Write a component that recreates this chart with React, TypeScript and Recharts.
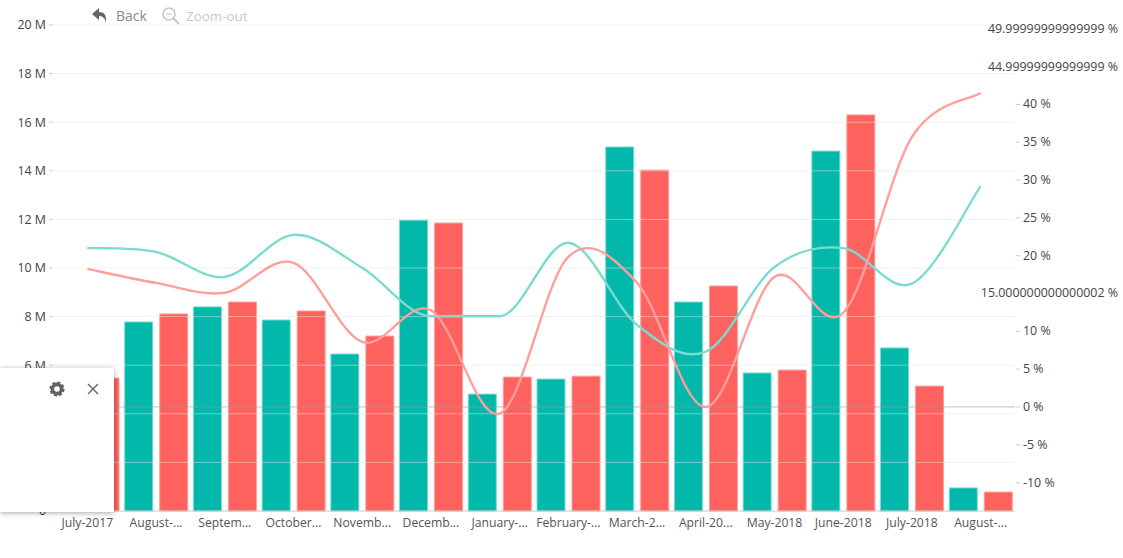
import { Bar, ComposedChart, Line, ReferenceLine, XAxis, YAxis } from 'recharts';

const months = [
  'July-2017', 'August-...', 'Septem...', 'October...', 'Novemb...', 'Decemb...', 'January-...',
  'February-...', 'March-2...', 'April-20...', 'May-2018', 'June-2018', 'July-2018', 'August-...',
];
const tealBars = [5.3, 7.78, 8.4, 7.86, 6.46, 11.97, 4.81, 5.43, 14.98, 8.6, 5.68, 14.81, 6.71, 0.95];
const redBars = [5.47, 8.11, 8.6, 8.23, 7.2, 11.85, 5.51, 5.55, 14.03, 9.26, 5.8, 16.3, 5.14, 0.78];
const tealLine = [21.03, 20.5, 17.2, 22.75, 18.4, 12.0, 12.0, 21.7, 10.85, 7.3, 18.5, 21.0, 16.3, 29.2];
const redLine = [18.25, 16.4, 15.1, 19.05, 8.6, 12.8, -0.9, 19.85, 16.4, 0, 17.2, 12.45, 35.7, 41.5];

const leftTicks = [0, 2, 4, 6, 8, 10, 12, 14, 16, 18, 20];
const rightTicks = [-10, -5, 0, 5, 10, 15, 20, 25, 30, 35, 40, 45, 50];
const rightLabels: Record<number, string> = {
  15: '15.000000000000002 %',
  45: '44.99999999999999 %',
  50: '49.99999999999999 %',
};

const data = months.map((month, i) => ({
  month,
  tealBar: tealBars[i],
  redBar: redBars[i],
  tealLine: tealLine[i],
  redLine: redLine[i],
}));

const FONT = '"Open Sans", sans-serif';

// d3's curve interface, catmull-rom style, the reference spline overshoots a little
// but stays flat along a level stretch, so the slope is dropped next to one
function smoothCurve(context: any) {
  let pts: [number, number][] = [];
  const k = 1 / 6;
  const slope = (i: number) => {
    const prev = pts[Math.max(i - 1, 0)];
    const next = pts[Math.min(i + 1, pts.length - 1)];
    const p = pts[i];
    const flat = Math.abs(p[1] - prev[1]) < 0.5 && i > 0 ? true : Math.abs(next[1] - p[1]) < 0.5 && i < pts.length - 1;
    return [(next[0] - prev[0]) * k, flat ? 0 : (next[1] - prev[1]) * k];
  };
  return {
    areaStart() {},
    areaEnd() {},
    lineStart() {
      pts = [];
    },
    point(x: number, y: number) {
      pts.push([+x, +y]);
    },
    lineEnd() {
      pts.forEach((p, i) => {
        if (i === 0) {
          context.moveTo(p[0], p[1]);
          return;
        }
        const p1 = pts[i - 1];
        const a = slope(i - 1);
        const b = slope(i);
        context.bezierCurveTo(p1[0] + a[0], p1[1] + a[1], p[0] - b[0], p[1] - b[1], p[0], p[1]);
      });
    },
  };
}

function RightTick({ x, y, payload }: any) {
  const long = rightLabels[payload.value];
  if (long) {
    return (
      <text x={1118} y={y} dy={4} textAnchor="end" fontSize={12.4} fontFamily={FONT} fill="#444">
        {long}
      </text>
    );
  }
  return (
    <g>
      <line x1={1016} x2={1020} y1={y} y2={y} stroke="#ccc" />
      <text x={1023} y={y} dy={4} fontSize={12.4} fontFamily={FONT} fill="#444">
        {payload.value} %
      </text>
    </g>
  );
}

function Toolbar() {
  return (
    <>
      <svg width={20} height={20} style={{ position: 'absolute', left: 90, top: 6 }}>
        <path d="M2 8 L9 2 V6 C14 6 17 9 16 17 C15 12 13 10 9 10 V14 Z" fill="#666" />
      </svg>
      <div style={{ position: 'absolute', left: 116, top: 6, font: `14px ${FONT}`, color: '#8a8a8a' }}>Back</div>
      <svg width={20} height={20} style={{ position: 'absolute', left: 161, top: 6 }}>
        <circle cx={8} cy={8} r={6} fill="none" stroke="#c4c4c4" strokeWidth={1.5} />
        <line x1={5} x2={11} y1={8} y2={8} stroke="#c4c4c4" />
        <line x1={12} x2={18} y1={12} y2={18} stroke="#c4c4c4" strokeWidth={2} />
      </svg>
      <div style={{ position: 'absolute', left: 186, top: 7, font: `13.4px ${FONT}`, color: '#c8c8c8' }}>Zoom-out</div>
    </>
  );
}

function Panel() {
  return (
    <div
      style={{
        position: 'absolute',
        left: 0,
        top: 368,
        width: 114,
        height: 144,
        background: '#fff',
        boxShadow: '0 1px 5px rgba(0,0,0,0.35)',
      }}
    >
      <svg width={114} height={40} style={{ position: 'absolute', left: 0, top: 0 }}>
        <circle cx={57} cy={21} r={4.6} fill="none" stroke="#5f6368" strokeWidth={3.6} />
        <circle cx={57} cy={21} r={6.6} fill="none" stroke="#5f6368" strokeWidth={2} strokeDasharray="3 2.2" />
        <path d="M88 16 L98 26 M98 16 L88 26" stroke="#5f6368" strokeWidth={1.4} />
      </svg>
    </div>
  );
}

export default function App() {
  return (
    <div style={{ position: 'absolute', left: 0, top: 0, width: 1123, height: 558, background: '#fff' }}>
      <ComposedChart
        width={1123}
        height={558}
        data={data}
        margin={{ top: 25, right: 0, bottom: 0, left: 0 }}
        barSize={28}
        barGap={7}
      >
        <XAxis
          dataKey="month"
          interval={0}
          height={47}
          tickLine={false}
          stroke="#c8c8c8"
          tick={{ fill: '#555', fontSize: 12.2, fontFamily: FONT }}
          tickMargin={1}
        />
        <YAxis
          yAxisId="left"
          width={53}
          domain={[0, 20]}
          ticks={leftTicks}
          interval={0}
          axisLine={false}
          tickSize={4}
          tickMargin={3}
          stroke="#ccc"
          tick={{ fill: '#444', fontSize: 12.4, fontFamily: FONT }}
          tickFormatter={(v: number) => (v === 0 ? '0' : `${v} M`)}
        />
        <YAxis
          yAxisId="right"
          orientation="right"
          width={108}
          domain={[-13.76, 50.5]}
          ticks={rightTicks}
          interval={0}
          axisLine={false}
          tickLine={false}
          tick={<RightTick />}
        />
        <Bar yAxisId="left" dataKey="tealBar" fill="#01B8AA" stroke="#7adbd0" strokeWidth={1} isAnimationActive={false} />
        <Bar yAxisId="left" dataKey="redBar" fill="#FD625E" stroke="#ff9f9b" strokeWidth={1} isAnimationActive={false} />
        {/* grid drawn as front reference lines, it runs over the bars in the reference */}
        {leftTicks.slice(1).map((t) => (
          <ReferenceLine key={t} yAxisId="left" y={t} stroke="#e6e6e6" strokeOpacity={0.5} isFront />
        ))}
        <ReferenceLine yAxisId="right" y={0} stroke="#999" strokeOpacity={0.6} isFront />
        <Line
          yAxisId="right"
          dataKey="tealLine"
          type={smoothCurve as any}
          stroke="#7adbd0"
          strokeWidth={2.4}
          dot={false}
          isAnimationActive={false}
        />
        <Line
          yAxisId="right"
          dataKey="redLine"
          type={smoothCurve as any}
          stroke="#ff9f9b"
          strokeWidth={2.4}
          dot={false}
          isAnimationActive={false}
        />
      </ComposedChart>
      <Toolbar />
      <Panel />
    </div>
  );
}
